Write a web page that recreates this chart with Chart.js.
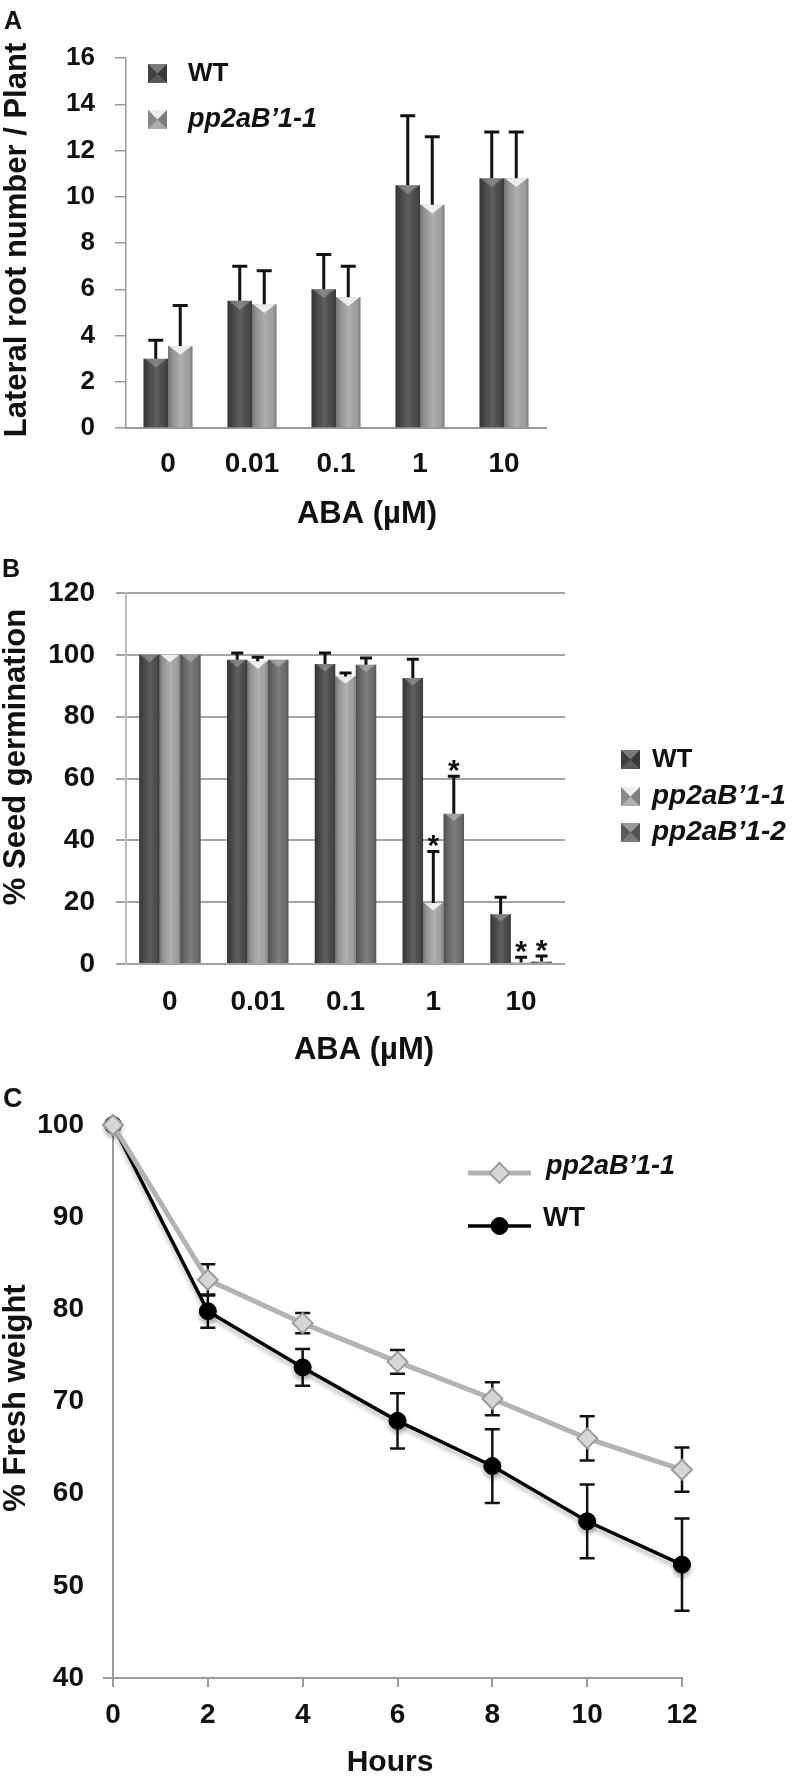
<!DOCTYPE html>
<html><head><meta charset="utf-8">
<script src="https://cdn.jsdelivr.net/npm/chart.js@4.4.1/dist/chart.umd.min.js"></script>
<style>
html,body{margin:0;padding:0;background:#fff;overflow:hidden;width:793px;height:1776px;}
canvas.panel{position:absolute;left:0;}
</style></head><body>
<canvas id="cA" class="panel" style="top:0px;width:793px;height:545px" width="793" height="545"></canvas>
<canvas id="cB" class="panel" style="top:545px;width:793px;height:530px" width="793" height="530"></canvas>
<canvas id="cC" class="panel" style="top:1075px;width:793px;height:715px" width="793" height="715"></canvas>
<script>
// ---------- DATA ----------
const abaLabels = ['0', '0.01', '0.1', '1', '10'];

// Panel A: lateral root number / plant
const rootWT     = [3.0, 5.5, 6.0, 10.5, 10.8];
const rootWTErr  = [0.8, 1.5, 1.5, 3.0, 2.0];
const rootMut    = [3.55, 5.35, 5.65, 9.65, 10.8];
const rootMutErr = [1.75, 1.45, 1.35, 2.95, 2.0];

// Panel B: % seed germination
const germWT     = [100, 98.4, 97.0, 92.5, 16.1];
const germWTErr  = [0, 2.2, 3.6, 6.1, 5.5];
const germM1     = [100, 97.9, 93.0, 19.7, 0.5];
const germM1Err  = [0, 1.3, 1.1, 16.7, 1.7];
const germM2     = [100, 98.4, 96.8, 48.6, 0.8];
const germM2Err  = [0, 0, 2.2, 12.1, 1.8];
const germM1Sig  = [false, false, false, true, true];
const germM2Sig  = [false, false, false, true, true];

// Panel C: % fresh weight over time
const hours      = [0, 2, 4, 6, 8, 10, 12];
const fwMut      = [100, 83.2, 78.5, 74.3, 70.3, 66.0, 62.6];
const fwMutErr   = [0, 1.7, 1.1, 1.3, 1.8, 2.4, 2.4];
const fwWT       = [100, 79.8, 73.7, 67.9, 63.0, 57.0, 52.3];
const fwWTErr    = [0, 1.8, 2.0, 3.0, 4.0, 4.0, 5.0];

const yTicksA = {min: 0, max: 16, step: 2};
const yTicksB = {min: 0, max: 120, step: 20};
const yTicksC = {min: 40, max: 100, step: 10};
const xTicksC = {min: 0, max: 12, step: 2};

// ---------- STYLE / PLUGINS ----------
const FONT = '"Liberation Sans", Arial, Helvetica, sans-serif';
Chart.defaults.font.family = FONT;
Chart.defaults.font.weight = 'bold';
Chart.defaults.color = '#111';
Chart.defaults.animation = false;
Chart.defaults.plugins.legend.display = false;
Chart.defaults.plugins.tooltip.enabled = false;

const barShadePlugin = {
  id: 'barShade',
  afterDatasetsDraw(chart, args, opts) {
    const ctx = chart.ctx;
    chart.data.datasets.forEach((ds, di) => {
      const meta = chart.getDatasetMeta(di);
      meta.data.forEach(el => {
        const p = el.getProps(['x', 'y', 'base', 'width'], true);
        const l = p.x - p.width / 2, r = p.x + p.width / 2;
        const h = p.base - p.y;
        if (h <= 0) return;
        ctx.save();
        const g = ctx.createLinearGradient(l, 0, r, 0);
        g.addColorStop(0, 'rgba(0,0,0,0.30)');
        g.addColorStop(0.18, 'rgba(0,0,0,0.12)');
        g.addColorStop(0.55, 'rgba(255,255,255,0.10)');
        g.addColorStop(0.85, 'rgba(0,0,0,0.04)');
        g.addColorStop(1, 'rgba(0,0,0,0.25)');
        ctx.fillStyle = g;
        ctx.fillRect(l, p.y, p.width, h);
        const d = Math.min(p.width * 0.36, h);
        ctx.fillStyle = opts.bevel[di];
        ctx.beginPath();
        ctx.moveTo(l + 1, p.y); ctx.lineTo(r - 1, p.y); ctx.lineTo(p.x, p.y + d);
        ctx.closePath(); ctx.fill();
        ctx.restore();
      });
    });
  }
};

function drawErrors(chart, di, opts) {
  const errs = opts.errors[di];
  if (!errs) return;
  const meta = chart.getDatasetMeta(di);
  const ys = chart.scales.y;
  const ctx = chart.ctx;
  const data = chart.data.datasets[di].data;
  ctx.save();
  ctx.strokeStyle = opts.color;
  ctx.lineWidth = opts.width;
  meta.data.forEach((el, i) => {
    const e = errs[i];
    const raw = data[i];
    const v = (typeof raw === 'object') ? raw.y : raw;
    const x = el.x;
    const yTop = ys.getPixelForValue(v + e);
    if (e > 0) {
      const yBot = opts.both ? ys.getPixelForValue(v - e) : ys.getPixelForValue(v);
      ctx.beginPath();
      ctx.moveTo(x, yBot); ctx.lineTo(x, yTop);
      ctx.moveTo(x - opts.cap / 2, yTop); ctx.lineTo(x + opts.cap / 2, yTop);
      if (opts.both) { ctx.moveTo(x - opts.cap / 2, yBot); ctx.lineTo(x + opts.cap / 2, yBot); }
      ctx.stroke();
    }
    const stars = opts.stars && opts.stars[di];
    if (stars && stars[i]) {
      ctx.fillStyle = opts.color;
      ctx.font = 'bold ' + opts.starSize + 'px ' + FONT;
      ctx.textAlign = 'center';
      ctx.textBaseline = 'alphabetic';
      ctx.fillText('*', x, yTop + 4);
    }
  });
  ctx.restore();
}

const errorBarsPlugin = {
  id: 'errorBars',
  afterDatasetsDraw(chart, args, opts) {
    if (opts.mode !== 'bar') return;
    chart.data.datasets.forEach((ds, di) => drawErrors(chart, di, opts));
  },
  beforeDatasetDraw(chart, args, opts) {
    if (opts.mode !== 'line') return;
    drawErrors(chart, args.index, opts);
  }
};

const shadowPlugin = {
  id: 'lineShadow',
  beforeDatasetDraw(chart, args, opts) {
    if (!opts.indices || !opts.indices.includes(args.index)) return;
    const ctx = chart.ctx;
    ctx.save();
    ctx.shadowColor = opts.color;
    ctx.shadowBlur = opts.blur;
    ctx.shadowOffsetY = opts.offsetY;
  },
  afterDatasetDraw(chart, args, opts) {
    if (!opts.indices || !opts.indices.includes(args.index)) return;
    chart.ctx.restore();
  }
};

function drawBox(ctx, x, y, s, color, bevel) {
  ctx.save();
  ctx.fillStyle = color;
  ctx.fillRect(x, y, s, s);
  const cx = x + s / 2, cy = y + s / 2;
  ctx.fillStyle = bevel;
  ctx.beginPath(); ctx.moveTo(x, y); ctx.lineTo(x + s, y); ctx.lineTo(cx, cy); ctx.closePath(); ctx.fill();
  ctx.fillStyle = 'rgba(0,0,0,0.18)';
  ctx.beginPath(); ctx.moveTo(x, y); ctx.lineTo(x, y + s); ctx.lineTo(cx, cy); ctx.closePath(); ctx.fill();
  ctx.fillStyle = 'rgba(0,0,0,0.25)';
  ctx.beginPath(); ctx.moveTo(x + s, y); ctx.lineTo(x + s, y + s); ctx.lineTo(cx, cy); ctx.closePath(); ctx.fill();
  ctx.fillStyle = 'rgba(255,255,255,0.08)';
  ctx.beginPath(); ctx.moveTo(x, y + s); ctx.lineTo(x + s, y + s); ctx.lineTo(cx, cy); ctx.closePath(); ctx.fill();
  ctx.restore();
}

const legendPlugin = {
  id: 'panelLegend',
  afterDraw(chart, args, opts) {
    const ctx = chart.ctx;
    (opts.items || []).forEach(it => {
      const ds = chart.data.datasets[it.ds];
      ctx.save();
      if (it.kind === 'box') {
        drawBox(ctx, it.x, it.y, it.size, ds.backgroundColor, it.bevel);
      } else {
        ctx.strokeStyle = ds.borderColor;
        ctx.lineWidth = ds.borderWidth;
        ctx.beginPath(); ctx.moveTo(it.x, it.y); ctx.lineTo(it.x + it.len, it.y); ctx.stroke();
        const mx = it.x + it.len / 2;
        ctx.fillStyle = ds.pointBackgroundColor;
        ctx.strokeStyle = ds.pointBorderColor;
        ctx.lineWidth = ds.pointBorderWidth || 1;
        ctx.beginPath();
        if (ds.pointStyle === 'rectRot') {
          const r = ds.pointRadius;
          ctx.moveTo(mx, it.y - r); ctx.lineTo(mx + r, it.y); ctx.lineTo(mx, it.y + r); ctx.lineTo(mx - r, it.y);
          ctx.closePath();
        } else {
          ctx.arc(mx, it.y, ds.pointRadius, 0, Math.PI * 2);
        }
        ctx.fill(); ctx.stroke();
      }
      ctx.fillStyle = '#111';
      ctx.font = (it.italic ? 'italic ' : '') + 'bold ' + it.fontSize + 'px ' + FONT;
      ctx.textAlign = 'left';
      ctx.textBaseline = 'middle';
      ctx.fillText(ds.label, it.tx, it.ty);
      ctx.restore();
    });
  }
};

const textPlugin = {
  id: 'panelText',
  afterDraw(chart, args, opts) {
    const ctx = chart.ctx;
    (opts.items || []).forEach(t => {
      ctx.save();
      ctx.font = (t.italic ? 'italic ' : '') + 'bold ' + t.size + 'px ' + FONT;
      ctx.fillStyle = '#111';
      ctx.textAlign = t.align || 'center';
      ctx.textBaseline = t.baseline || 'middle';
      ctx.translate(t.x, t.y);
      if (t.rotate) ctx.rotate(t.rotate);
      ctx.fillText(t.text, 0, 0);
      ctx.restore();
    });
  }
};

// ---------- PANEL A ----------
new Chart(document.getElementById('cA'), {
  type: 'bar',
  data: {
    labels: abaLabels,
    datasets: [
      {label: 'WT', data: rootWT, backgroundColor: '#4d4d4d', borderWidth: 0},
      {label: 'pp2aB\u20191-1', data: rootMut, backgroundColor: '#a5a5a5', borderWidth: 0}
    ]
  },
  options: {
    responsive: false, devicePixelRatio: 1,
    layout: {padding: {top: 58, right: 247, bottom: 0, left: 0}},
    datasets: {bar: {categoryPercentage: 0.583, barPercentage: 1}},
    scales: {
      x: {
        offset: true,
        grid: {display: false, drawTicks: false},
        border: {display: true, color: '#9a9a9a', width: 2},
        ticks: {padding: 19, font: {size: 28}},
        afterFit: s => { s.height = 117; }
      },
      y: {
        min: yTicksA.min, max: yTicksA.max,
        ticks: {stepSize: yTicksA.step, padding: 20, font: {size: 26}},
        grid: {display: true, drawOnChartArea: false, drawTicks: true, tickLength: 11, color: '#9a9a9a', lineWidth: 1.5},
        border: {display: true, color: '#9a9a9a', width: 1.5},
        afterFit: s => { s.width = 126; }
      }
    },
    plugins: {
      barShade: {bevel: ['rgba(255,255,255,0.25)', 'rgba(255,255,255,0.8)']},
      errorBars: {mode: 'bar', errors: [rootWTErr, rootMutErr], cap: 15, width: 3, color: '#111'},
      panelLegend: {items: [
        {kind: 'box', ds: 0, x: 148, y: 64, size: 19, bevel: 'rgba(255,255,255,0.25)', tx: 188, ty: 74, fontSize: 26},
        {kind: 'box', ds: 1, x: 148, y: 110, size: 19, bevel: 'rgba(255,255,255,0.8)', tx: 188, ty: 120, fontSize: 27, italic: true}
      ]},
      panelText: {items: [
        {text: 'A', x: 4, y: 29, size: 25, align: 'left', baseline: 'alphabetic'},
        {text: 'ABA (\u00b5M)', x: 367, y: 514, size: 31},
        {text: 'Lateral root number / Plant', x: 17, y: 240, size: 31, rotate: -Math.PI / 2}
      ]}
    }
  },
  plugins: [barShadePlugin, errorBarsPlugin, legendPlugin, textPlugin]
});

// ---------- PANEL B ----------
new Chart(document.getElementById('cB'), {
  type: 'bar',
  data: {
    labels: abaLabels,
    datasets: [
      {label: 'WT', data: germWT, backgroundColor: '#4d4d4d', borderWidth: 0},
      {label: 'pp2aB\u20191-1', data: germM1, backgroundColor: '#a8a8a8', borderWidth: 0},
      {label: 'pp2aB\u20191-2', data: germM2, backgroundColor: '#707070', borderWidth: 0}
    ]
  },
  options: {
    responsive: false, devicePixelRatio: 1,
    layout: {padding: {top: 48, right: 228, bottom: 0, left: 0}},
    datasets: {bar: {categoryPercentage: 0.70, barPercentage: 1}},
    scales: {
      x: {
        offset: true,
        grid: {display: false, drawTicks: false},
        border: {display: false},
        ticks: {padding: 21, font: {size: 28}},
        afterFit: s => { s.height = 111; }
      },
      y: {
        min: yTicksB.min, max: yTicksB.max,
        ticks: {stepSize: yTicksB.step, padding: 21, font: {size: 28}},
        grid: {display: true, drawOnChartArea: true, drawTicks: true, tickLength: 10, color: '#a3a3a3', lineWidth: 2},
        border: {display: true, color: '#bdbdbd', width: 2},
        afterFit: s => { s.width = 126; }
      }
    },
    plugins: {
      barShade: {bevel: ['rgba(255,255,255,0.25)', 'rgba(255,255,255,0.8)', 'rgba(255,255,255,0.3)']},
      errorBars: {mode: 'bar', errors: [germWTErr, germM1Err, germM2Err], stars: [null, germM1Sig, germM2Sig], starSize: 30, cap: 12, width: 3, color: '#111'},
      panelLegend: {items: [
        {kind: 'box', ds: 0, x: 621, y: 750, size: 19, bevel: 'rgba(255,255,255,0.25)', tx: 652, ty: 760, fontSize: 26},
        {kind: 'box', ds: 1, x: 621, y: 787, size: 19, bevel: 'rgba(255,255,255,0.8)', tx: 652, ty: 796, fontSize: 28, italic: true},
        {kind: 'box', ds: 2, x: 621, y: 823, size: 19, bevel: 'rgba(255,255,255,0.3)', tx: 652, ty: 832, fontSize: 28, italic: true}
      ].map(o => Object.assign(o, {y: o.y - 545, ty: o.ty - 545}))},
      panelText: {items: [
        {text: 'B', x: 2, y: 32, size: 25, align: 'left', baseline: 'alphabetic'},
        {text: 'ABA (\u00b5M)', x: 364, y: 505, size: 31},
        {text: '% Seed germination', x: 16, y: 212, size: 31, rotate: -Math.PI / 2}
      ]}
    }
  },
  plugins: [barShadePlugin, errorBarsPlugin, legendPlugin, textPlugin]
});

// ---------- PANEL C ----------
new Chart(document.getElementById('cC'), {
  type: 'line',
  data: {
    datasets: [
      {
        label: 'pp2aB\u20191-1',
        data: hours.map((h, i) => ({x: h, y: fwMut[i]})),
        borderColor: '#b3b3b3', borderWidth: 5, tension: 0,
        pointStyle: 'rectRot', pointRadius: 10, pointBackgroundColor: '#d6d6d6',
        pointBorderColor: '#9c9c9c', pointBorderWidth: 2, clip: false
      },
      {
        label: 'WT',
        data: hours.map((h, i) => ({x: h, y: fwWT[i]})),
        borderColor: '#000000', borderWidth: 3.5, tension: 0,
        pointStyle: 'circle', pointRadius: 8.5, pointBackgroundColor: '#000000',
        pointBorderColor: '#000000', pointBorderWidth: 1, clip: false
      }
    ]
  },
  options: {
    responsive: false, devicePixelRatio: 1,
    layout: {padding: {top: 50, right: 111, bottom: 0, left: 0}},
    scales: {
      x: {
        type: 'linear', min: xTicksC.min, max: xTicksC.max,
        ticks: {stepSize: xTicksC.step, padding: 11, font: {size: 28}},
        grid: {display: true, drawOnChartArea: false, drawTicks: true, tickLength: 9, color: '#9a9a9a', lineWidth: 2},
        border: {display: true, color: '#9a9a9a', width: 2},
        afterFit: s => { s.height = 112; }
      },
      y: {
        min: yTicksC.min, max: yTicksC.max,
        ticks: {stepSize: yTicksC.step, padding: 19, font: {size: 28}},
        grid: {display: true, drawOnChartArea: false, drawTicks: true, tickLength: 10,
               color: c => (c.tick && c.tick.value === yTicksC.min) ? '#9a9a9a' : 'rgba(0,0,0,0)', lineWidth: 2},
        border: {display: true, color: '#9a9a9a', width: 2},
        afterFit: s => { s.width = 113; }
      }
    },
    plugins: {
      errorBars: {mode: 'line', both: true, errors: [fwMutErr, fwWTErr], cap: 15, width: 2.5, color: '#111'},
      lineShadow: {indices: [1], color: 'rgba(0,0,0,0.28)', blur: 4, offsetY: 4},
      panelLegend: {items: [
        {kind: 'line', ds: 0, x: 468, y: 98, len: 63, tx: 546, ty: 92, fontSize: 27, italic: true},
        {kind: 'line', ds: 1, x: 468, y: 151, len: 63, tx: 543, ty: 144, fontSize: 27}
      ]},
      panelText: {items: [
        {text: 'C', x: 3, y: 32, size: 27, align: 'left', baseline: 'alphabetic'},
        {text: 'Hours', x: 390, y: 688, size: 30},
        {text: '% Fresh weight', x: 16, y: 323, size: 31, rotate: -Math.PI / 2}
      ]}
    }
  },
  plugins: [errorBarsPlugin, shadowPlugin, legendPlugin, textPlugin]
});
</script>
</body></html>
